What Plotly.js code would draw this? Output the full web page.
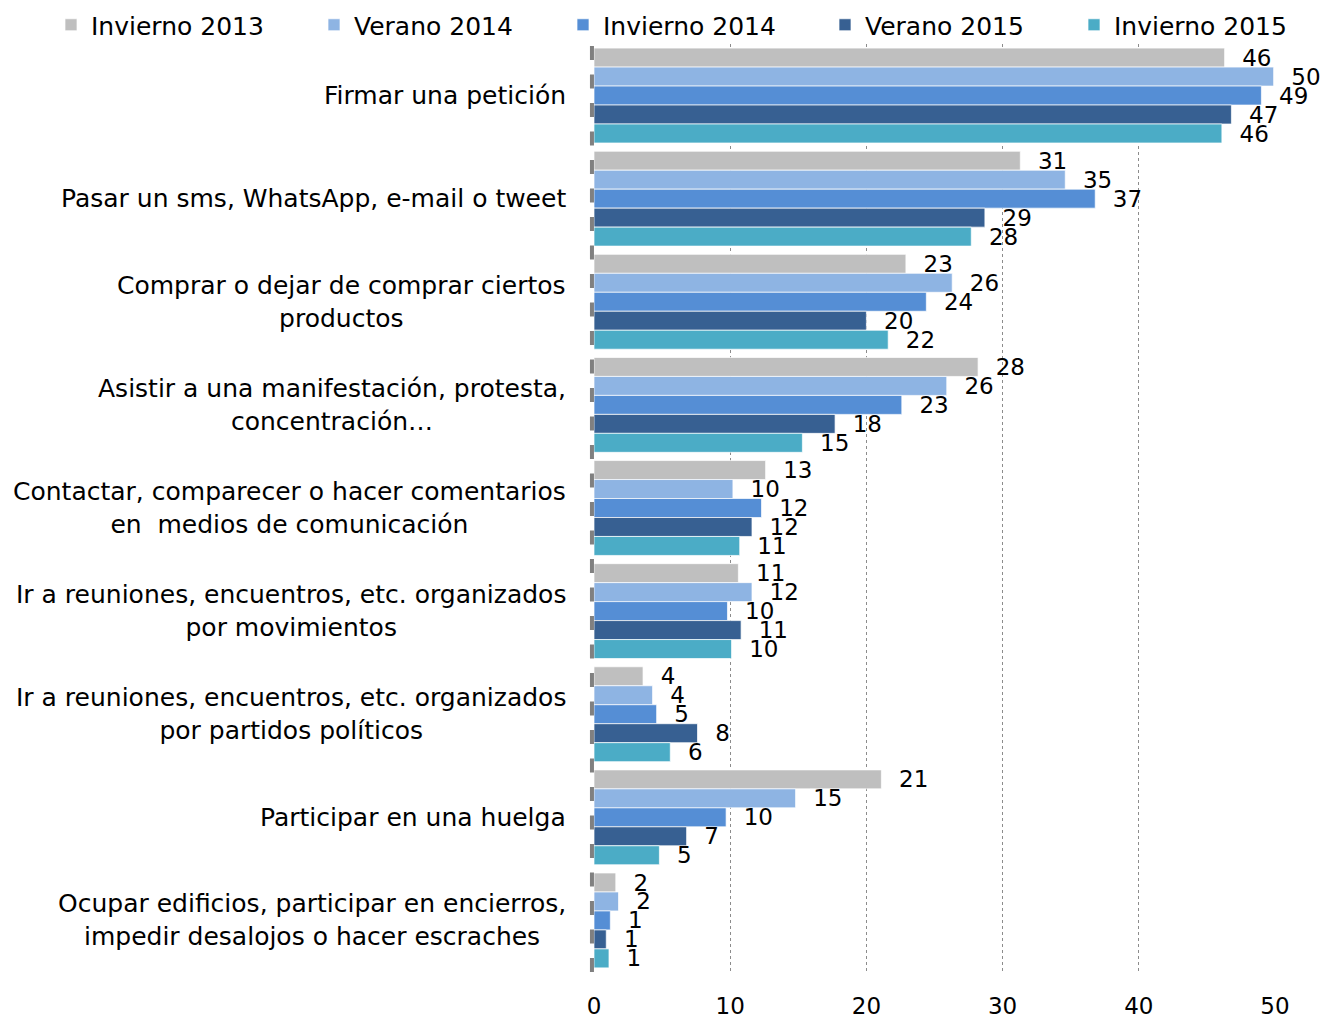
<!DOCTYPE html>
<html>
<head>
<meta charset="utf-8">
<script src="https://cdn.plot.ly/plotly-3.0.1.min.js"></script>
<style>
  html, body { margin: 0; padding: 0; background: #ffffff; }
  #chart { width: 1321px; height: 1018px; }
</style>
</head>
<body>
<div id="chart"></div>
<script>
// Categories, top to bottom
const categories = [
  "Firmar una petición",
  "Pasar un sms, WhatsApp, e-mail o tweet",
  "Comprar o dejar de comprar ciertos<br>productos",
  "Asistir a una manifestación, protesta,<br>concentración…",
  "Contactar, comparecer o hacer comentarios<br>en\u00a0 medios de comunicación",
  "Ir a reuniones, encuentros, etc. organizados<br>por movimientos",
  "Ir a reuniones, encuentros, etc. organizados<br>por partidos políticos",
  "Participar en una huelga",
  "Ocupar edificios, participar en encierros,<br>impedir desalojos o hacer escraches"
];

const seriesNames = ["Invierno 2013", "Verano 2014", "Invierno 2014", "Verano 2015", "Invierno 2015"];

// Values (percent), in category order
const invierno2013 = [46.3, 31.3, 22.9, 28.2, 12.6, 10.6, 3.6, 21.1, 1.6];
const verano2014   = [49.9, 34.6, 26.3, 25.9, 10.2, 11.6, 4.3, 14.8, 1.8];
const invierno2014 = [49.0, 36.8, 24.4, 22.6, 12.3,  9.8, 4.6,  9.7, 1.2];
const verano2015   = [46.8, 28.7, 20.0, 17.7, 11.6, 10.8, 7.6,  6.8, 0.9];
const invierno2015 = [46.1, 27.7, 21.6, 15.3, 10.7, 10.1, 5.6,  4.8, 1.1];

const xTicks = [0, 10, 20, 30, 40, 50];

const seriesValues = [invierno2013, verano2014, invierno2014, verano2015, invierno2015];
const colors = ["#BFBFBF", "#8EB4E3", "#558ED5", "#376092", "#4BACC6"];

const FONT = "DejaVu Sans, Verdana, sans-serif";
const W = 1321, H = 1018;

const legendIds = ["legend", "legend2", "legend3", "legend4", "legend5"];
const legendLeftPx = [51, 314, 563, 825, 1074];

const traces = seriesValues.map((vals, i) => ({
  type: "bar",
  orientation: "h",
  name: seriesNames[i],
  legend: legendIds[i],
  x: vals,
  y: categories,
  marker: { color: colors[i], line: { color: "rgba(255,255,255,0.7)", width: 1 } },
  texttemplate: "\u00a0\u00a0%{x:.0f}",
  textposition: "outside",
  textfont: { family: FONT, size: 23, color: "#000000" },
  cliponaxis: false,
  constraintext: "none",
  hoverinfo: "x+name"
}));

const annotations = categories.map(c => ({
  text: c,
  xref: "paper",
  x: 0,
  xshift: -26,
  xanchor: "right",
  yref: "y",
  y: c,
  yanchor: "middle",
  align: "center",
  showarrow: false,
  font: { family: FONT, size: 25, color: "#000000" }
}));

const layout = {
  width: W,
  height: H,
  paper_bgcolor: "#ffffff",
  plot_bgcolor: "#ffffff",
  margin: { l: 594, r: 46, t: 44, b: 46, autoexpand: false },
  barmode: "group",
  bargap: 0.08,
  bargroupgap: 0,
  font: { family: FONT, size: 23, color: "#000000" },
  showlegend: true,
  xaxis: {
    range: [0, 50],
    tickvals: xTicks,
    ticktext: xTicks.map(String),
    showgrid: true,
    gridcolor: "#8c8c8c",
    griddash: "dot",
    gridwidth: 1,
    zeroline: false,
    showline: false,
    ticks: "",
    ticklabelstandoff: 18,
    tickfont: { family: FONT, size: 23, color: "#000000" },
    fixedrange: true
  },
  yaxis: {
    type: "category",
    categoryorder: "array",
    categoryarray: categories,
    autorange: "reversed",
    showticklabels: false,
    showgrid: false,
    zeroline: false,
    showline: false,
    ticks: "",
    fixedrange: true
  },
  shapes: [{
    type: "line",
    xref: "paper",
    yref: "paper",
    x0: -0.003, x1: -0.003,
    y0: 0, y1: 1,
    layer: "below",
    line: { color: "#808080", width: 4, dash: "14px,14.5px" }
  }],
  annotations: annotations
};

legendIds.forEach((id, i) => {
  layout[id] = {
    orientation: "h",
    xref: "container",
    yref: "container",
    x: legendLeftPx[i] / W,
    y: 1 - 25 / H,
    xanchor: "left",
    yanchor: "middle",
    font: { family: FONT, size: 25, color: "#000000" },
    itemwidth: 30,
    bgcolor: "rgba(0,0,0,0)"
  };
});

Plotly.newPlot("chart", traces, layout, { displayModeBar: false, staticPlot: true });
</script>
</body>
</html>
